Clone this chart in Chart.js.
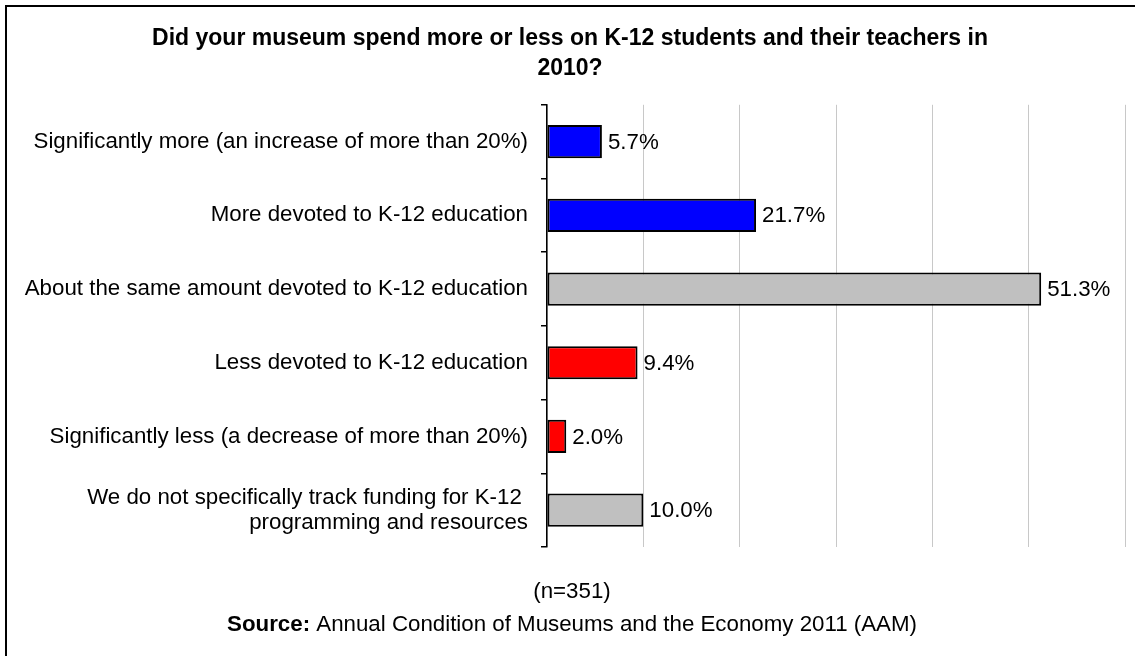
<!DOCTYPE html>
<html>
<head>
<meta charset="utf-8">
<script src="https://cdn.jsdelivr.net/npm/chart.js@4/dist/chart.umd.min.js"></script>
<style>
  html, body { margin: 0; padding: 0; background: #fff; overflow: hidden; }
  #wrap { position: relative; width: 1135px; height: 656px; }
  #frame { position: absolute; left: 5px; top: 5px; width: 1200px; height: 700px;
           border-left: 2px solid #000; border-top: 2px solid #000; pointer-events: none; }
  canvas { position: absolute; left: 0; top: 0; }
</style>
</head>
<body>
<div id="wrap">
  <canvas id="chart" width="1135" height="656"></canvas>
  <div id="frame"></div>
</div>
<script>
// survey answers, top to bottom
const categories = [
    'Significantly more (an increase of more than 20%)',
    'More devoted to K-12 education',
    'About the same amount devoted to K-12 education',
    'Less devoted to K-12 education',
    'Significantly less (a decrease of more than 20%)',
    ['We do not specifically track funding for K-12 ', 'programming and resources']
];
const values = [5.7, 21.7, 51.3, 9.4, 2.0, 10.0];
const barColors = ['#0000FF', '#0000FF', '#C0C0C0', '#FF0000', '#FF0000', '#C0C0C0'];
const titleLines = ['Did your museum spend more or less on K-12 students and their teachers in', '2010?'];
const sampleNote = '(n=351)';
const sourceLabel = 'Source:';
const sourceText = ' Annual Condition of Museums and the Economy 2011 (AAM)';

const FONT = '"Liberation Sans", Arial, sans-serif';
const TEXT_SIZE = 22.3;

// percentage text at the end of each bar
const valueLabels = {
    id: 'valueLabels',
    afterDatasetsDraw(chart) {
        const ctx = chart.ctx;
        const meta = chart.getDatasetMeta(0);
        ctx.save();
        ctx.font = TEXT_SIZE + 'px ' + FONT;
        ctx.fillStyle = '#000';
        ctx.textAlign = 'left';
        ctx.textBaseline = 'middle';
        meta.data.forEach((bar, i) => {
            ctx.fillText(values[i].toFixed(1) + '%', bar.x + 6, bar.y + 1);
        });
        ctx.restore();
    }
};

// sample size and source lines under the plot
const footerNotes = {
    id: 'footerNotes',
    afterDraw(chart) {
        const ctx = chart.ctx;
        const cx = 572;
        ctx.save();
        ctx.fillStyle = '#000';
        ctx.textBaseline = 'middle';
        ctx.font = TEXT_SIZE + 'px ' + FONT;
        ctx.textAlign = 'center';
        ctx.fillText(sampleNote, cx, 592);

        ctx.textAlign = 'left';
        ctx.font = 'bold ' + TEXT_SIZE + 'px ' + FONT;
        const wBold = ctx.measureText(sourceLabel).width;
        ctx.font = TEXT_SIZE + 'px ' + FONT;
        const wText = ctx.measureText(sourceText).width;
        const x = cx - (wBold + wText) / 2;
        ctx.font = 'bold ' + TEXT_SIZE + 'px ' + FONT;
        ctx.fillText(sourceLabel, x, 625);
        ctx.font = TEXT_SIZE + 'px ' + FONT;
        ctx.fillText(sourceText, x + wBold, 625);
        ctx.restore();
    }
};

const ctx = document.getElementById('chart').getContext('2d');
const chart = new Chart(ctx, {
    type: 'bar',
    data: {
        labels: categories,
        datasets: [{
            data: values,
            backgroundColor: barColors,
            borderColor: '#000',
            borderWidth: 2,
            borderSkipped: false,
            categoryPercentage: 1,
            barPercentage: 0.45
        }]
    },
    options: {
        indexAxis: 'y',
        responsive: false,
        animation: false,
        layout: { padding: { left: 15, right: 10, top: 0, bottom: 109 } },
        plugins: {
            legend: { display: false },
            tooltip: { enabled: false },
            title: {
                display: true,
                text: titleLines,
                color: '#000',
                font: { family: FONT, size: 23, weight: 'bold', lineHeight: 1.3 },
                padding: { top: 24, bottom: 21 }
            }
        },
        scales: {
            x: {
                min: 0,
                max: 60,
                ticks: { display: false, stepSize: 10 },
                grid: { color: '#C8C8C8', lineWidth: 1, drawTicks: false },
                border: { display: false }
            },
            y: {
                afterFit: (scale) => { scale.width = 532; },
                ticks: {
                    color: '#000',
                    padding: 13,
                    font: { family: FONT, size: TEXT_SIZE, lineHeight: 1.12 }
                },
                grid: { drawOnChartArea: false, color: '#000', tickLength: 6, lineWidth: 1.5 },
                border: { display: true, color: '#000', width: 1.5 }
            }
        }
    },
    plugins: [valueLabels, footerNotes]
});
</script>
</body>
</html>
